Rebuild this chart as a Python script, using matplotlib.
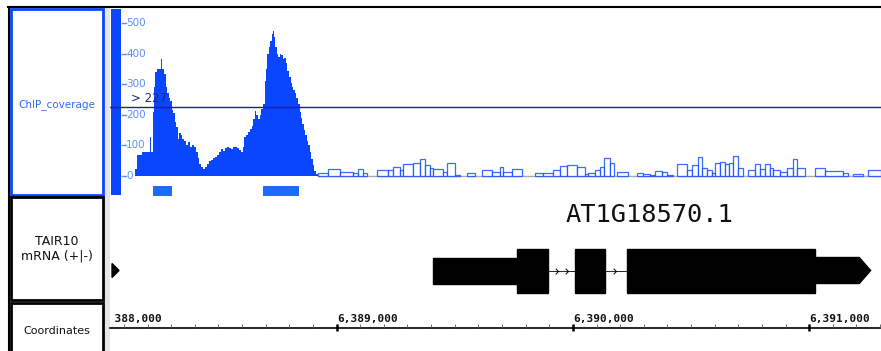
import numpy as np
import matplotlib.pyplot as plt
from matplotlib.patches import Rectangle, Polygon
from matplotlib.path import Path

W, H = 881, 351
ORIGIN = 6388000          # all positions below are bp offsets from this coordinate
VIEW = (41, 3304)         # visible window

# ChIP coverage over the two peaks (filled step profile)
PEAK_START = [146, 155, 175, 178, 210, 214, 221, 227, 233, 240, 256, 263, 269, 278, 284, 290,
              297, 303, 309, 316, 322, 327, 335, 341, 347, 356, 364, 373, 379, 388, 396, 405,
              413, 419, 426, 434, 443, 451, 460, 468, 477, 485, 493, 502, 510, 519, 527, 536,
              544, 553, 561, 570, 578, 587, 595, 604, 610, 616, 625, 633, 642, 648, 654, 661,
              667, 675, 682, 688, 695, 701, 707, 714, 720, 726, 730, 735, 741, 747, 754, 760,
              766, 773, 779, 785, 792, 798, 805, 811, 817, 824, 830, 836, 843, 849, 855, 861,
              868, 874, 880, 887, 893, 900, 906, 912]
PEAK_VAL = [23, 69, 0, 79, 129, 79, 210, 290, 340, 350, 383, 350, 333, 290, 270, 255,
            244, 215, 205, 178, 160, 122, 139, 135, 122, 115, 102, 110, 96, 102, 95, 80,
            60, 40, 30, 23, 28, 38, 48, 53, 58, 63, 70, 80, 89, 83, 92, 96,
            92, 89, 96, 94, 90, 85, 79, 95, 129, 135, 145, 155, 165, 185, 211, 200,
            185, 200, 220, 234, 310, 350, 399, 420, 442, 465, 475, 455, 420, 399, 390, 400,
            394, 383, 385, 370, 343, 325, 304, 290, 280, 271, 255, 234, 210, 190, 170, 150,
            135, 115, 102, 80, 55, 35, 15, 8]
PEAK_END = 921

# low background coverage (outlined boxes)
BG_START = [921, 963, 1014, 1069, 1090, 1111, 1128, 1171, 1217, 1238, 1268, 1281, 1323, 1353,
            1374, 1395, 1408, 1450, 1467, 1501, 1522, 1551, 1585, 1615, 1657, 1691, 1704, 1742,
            1784, 1839, 1873, 1915, 1945, 1975, 2017, 2051, 2064, 2093, 2114, 2131, 2156, 2173,
            2186, 2233, 2271, 2296, 2326, 2347, 2377, 2398, 2423, 2440, 2482, 2503, 2529, 2546,
            2567, 2588, 2601, 2622, 2643, 2660, 2677, 2698, 2719, 2740, 2770, 2791, 2812, 2833,
            2846, 2876, 2905, 2931, 2948, 2982, 3024, 3067, 3143, 3164, 3185, 3227, 3249]
BG_VAL = [9, 22, 14, 11, 22, 9, 0, 18, 20, 29, 20, 40, 42, 55,
          36, 25, 22, 14, 42, 3, 0, 9, 0, 20, 14, 29, 14, 24,
          0, 9, 11, 18, 33, 36, 30, 5, 11, 20, 31, 58, 42, 0,
          12, 0, 9, 7, 4, 16, 14, 3, 0, 40, 20, 36, 62, 25,
          20, 9, 42, 47, 40, 42, 66, 25, 0, 18, 40, 22, 40, 25,
          20, 14, 25, 55, 25, 0, 25, 16, 11, 0, 7, 0, 18]
BG_END = 3304

THRESHOLD = 227
YTICKS = [0, 100, 200, 300, 400, 500]
PEAK_CALLS = [(224, 302), (689, 840)]

# TAIR10 gene model
GENE_NAME = "AT1G18570.1"
UTR5 = (1406, 1762)
CDS = [(1762, 1893), (2010, 2138), (2231, 3024)]
UTR3 = (3024, 3260)

BLUE = "#0a46ff"
LBLUE = "#5b8dff"
CALL = "#1a6cff"
NAVY = "#1f2b66"
BP_PER_PX = 1 / 0.2363


def px_axes(fig, x0, y0, x1, y1):
    return fig.add_axes([x0 / W, 1 - y1 / H, (x1 - x0) / W, (y1 - y0) / H])


fig = plt.figure(figsize=(W / 100, H / 100), dpi=100)

# ----- overlay: frame, label panel, separators (pixel coordinates) -----
ov = fig.add_axes([0, 0, 1, 1])
ov.set_xlim(0, W); ov.set_ylim(H, 0); ov.axis("off")
ov.plot([8, W], [6.5, 6.5], color="black", lw=1.5)
ov.plot([8.5, 8.5], [6.5, H], color="black", lw=1.5)
ov.add_patch(Rectangle((104, 8), 6, H - 8, facecolor="#e6e6e6", edgecolor="none"))
ov.add_patch(Rectangle((11, 9), 92, 186, facecolor="white", edgecolor=BLUE, lw=2))
ov.add_patch(Rectangle((11, 197), 92, 103, facecolor="white", edgecolor="black", lw=2))
ov.add_patch(Rectangle((11, 303), 92, 52, facecolor="white", edgecolor="black", lw=2))
ov.text(57, 105, "ChIP_coverage", color="#2f6bff", fontsize=7.5, ha="center", va="center")
ov.text(57, 249, "TAIR10\nmRNA (+|-)", color="#111", fontsize=9, ha="center", va="center",
        linespacing=1.15)
ov.text(57, 331, "Coordinates", color="#111", fontsize=8, ha="center", va="center")
ov.add_patch(Rectangle((111, 9), 10, 186, facecolor=BLUE, edgecolor="none"))
ov.add_patch(Polygon([(112, 263.5), (119, 270.5), (112, 277.5)], closed=True, color="black"))

# ----- coverage track -----
ax = px_axes(fig, 110, 9, W, 196)
ax.patch.set_alpha(0)
ax.set_xlim(*VIEW)
ax.set_ylim(-20 / 0.306, 167 / 0.306)
ax.plot([BG_START[0], BG_END], [0, 0], color="#aaaaaa", lw=1, zorder=1)
ax.stairs(PEAK_VAL, PEAK_START + [PEAK_END], fill=True, color=BLUE, zorder=2)
bg_w = np.diff(BG_START + [BG_END])
for s, w, v in zip(BG_START, bg_w, BG_VAL):
    if v > 0:
        ax.bar(s, v, width=w, align="edge", facecolor="white", edgecolor=BLUE,
               lw=0.9, alpha=0.8, zorder=3)
ax.axhline(THRESHOLD, color=NAVY, lw=1, zorder=4)
ax.text(0.027, THRESHOLD + 4, f"> {THRESHOLD}", transform=ax.get_yaxis_transform(),
        color=NAVY, fontsize=8.5, ha="left", va="bottom", zorder=5)
for t in YTICKS:
    ax.plot([0.0150, 0.0205], [t, t], transform=ax.get_yaxis_transform(), color=LBLUE, lw=1)
    ax.text(0.0208, t, str(t), transform=ax.get_yaxis_transform(), color=LBLUE,
            fontsize=7.5, ha="left", va="center")
for a, b in PEAK_CALLS:
    ax.add_patch(Rectangle((a, 0.002), b - a, 0.052, transform=ax.get_xaxis_transform(),
                           facecolor=CALL, edgecolor="none"))
ax.axis("off")

# ----- gene track -----
gx = px_axes(fig, 110, 197, W, 300)
gx.patch.set_alpha(0)
gx.set_xlim(*VIEW)
gx.set_ylim(-29.5, 73.5)
gx.axis("off")
thin, thick = 13, 22
gx.add_patch(Rectangle((UTR5[0], -thin), UTR5[1] - UTR5[0], 2 * thin, color="black"))
for a, b in CDS:
    gx.add_patch(Rectangle((a, -thick), b - a, 2 * thick, color="black"))
tip = 48
gx.add_patch(Polygon([(UTR3[0], -thin), (UTR3[1] - tip, -thin), (UTR3[1], 0),
                      (UTR3[1] - tip, thin), (UTR3[0], thin)], closed=True, color="black"))
chev = Path([(-1, 1), (0, 0), (-1, -1)], [Path.MOVETO, Path.LINETO, Path.LINETO])
for (a0, a1), (b0, b1) in zip(CDS[:-1], CDS[1:]):
    gx.plot([a1, b0], [0, 0], color="black", lw=0.6)
    pos = np.arange(a1 + 44, b0 - 10, 42)
    gx.plot(pos, np.zeros_like(pos), ls="none", marker=chev, markersize=4,
            markerfacecolor="none", markeredgecolor="black", markeredgewidth=0.7)
gx.text(2326, 55, GENE_NAME, family="DejaVu Sans Mono",
        fontsize=18.3, ha="center", va="center", color="#111")

# ----- coordinate ruler (starts 2 px right so the hidden "6," is clipped) -----
cx = px_axes(fig, 112, 303, W, H)
cx.patch.set_alpha(0)
cx.set_xlim(VIEW[0] + 2 * BP_PER_PX, VIEW[1])
cx.set_ylim(H - 303, 0)
cx.axis("off")
yl = 327.7 - 303
cx.plot([VIEW[0], VIEW[1]], [yl, yl], color="black", lw=1.2, clip_on=False)
minor = np.arange(0, VIEW[1] + 1, 100)
cx.vlines(minor, yl - 3.5, yl, color="#555", lw=0.6)
major = np.arange(0, VIEW[1] + 1, 1000)
cx.vlines(major, yl - 3.5, yl + 3.5, color="black", lw=1.8)
for m in major:
    cx.text(m + 2, yl - 4, f"{ORIGIN + m:,}", family="DejaVu Sans Mono", fontweight="bold",
            fontsize=8, ha="left", va="bottom", color="#111", clip_on=True)

fig.savefig("out.png", dpi=100)
